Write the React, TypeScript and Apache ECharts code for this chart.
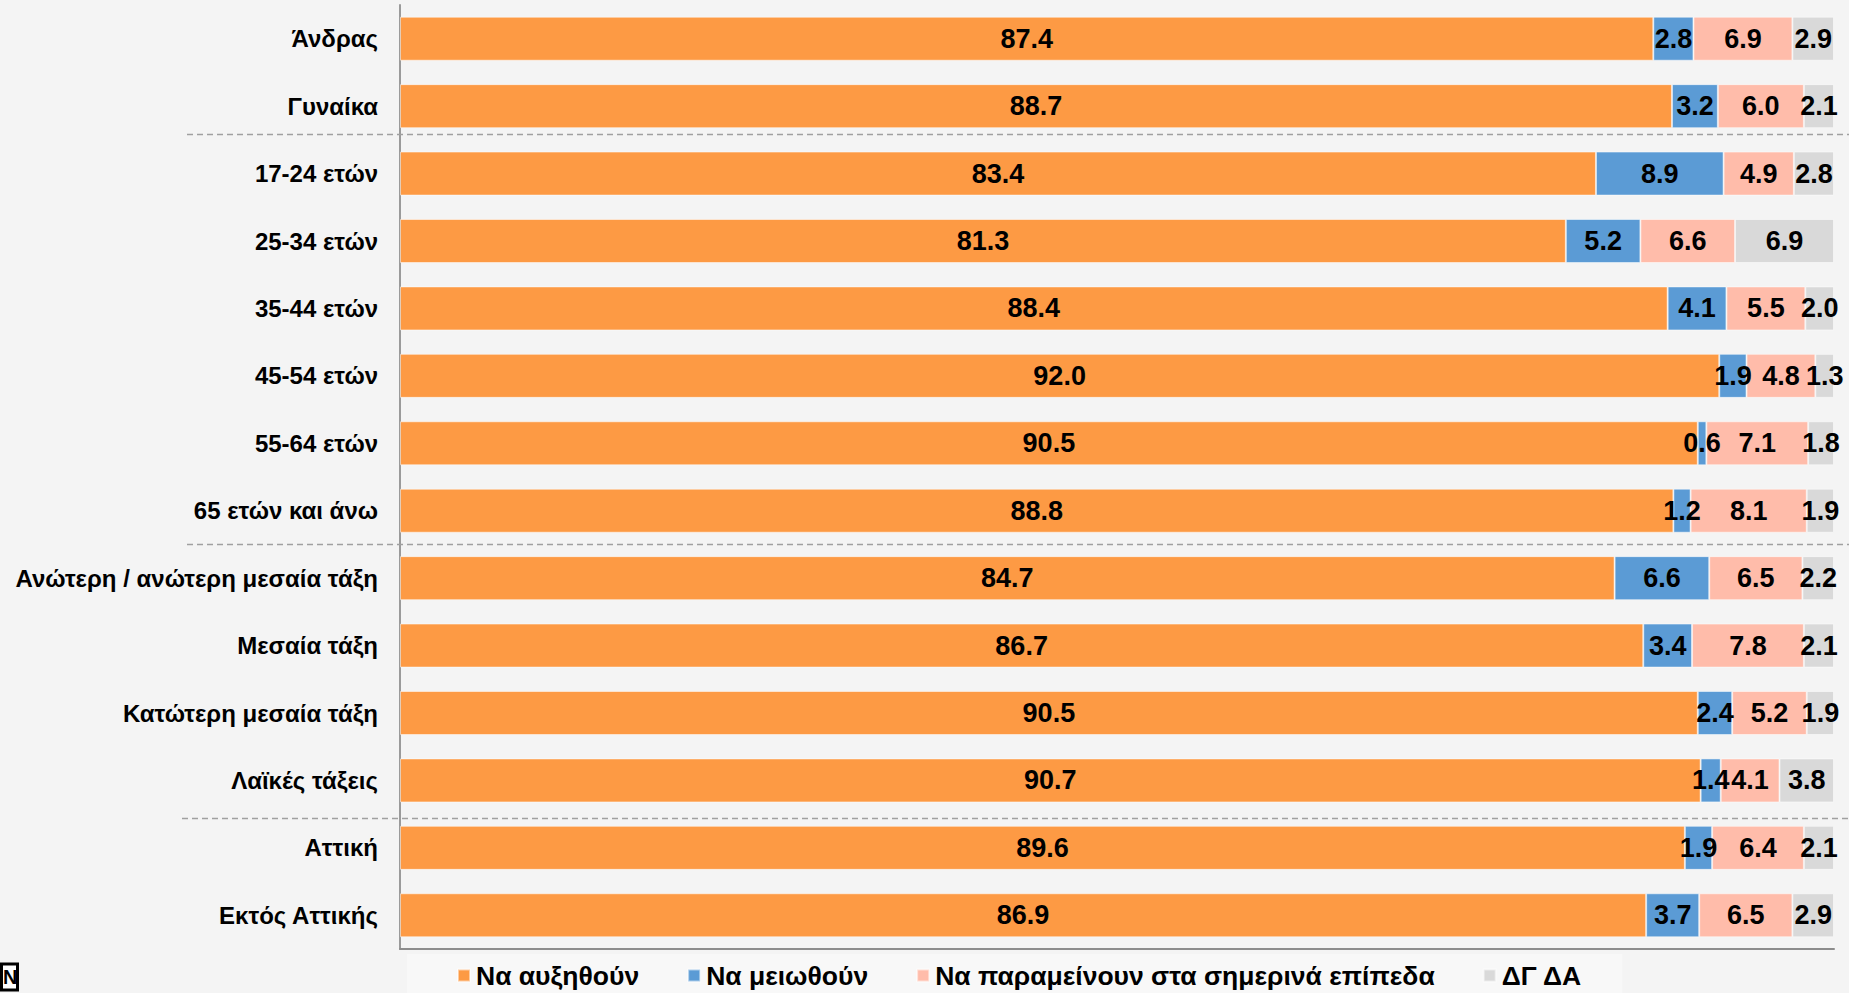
import React, { useEffect, useRef } from "react";
import * as echarts from "echarts";

const categories = [
  "Άνδρας",
  "Γυναίκα",
  "17-24 ετών",
  "25-34 ετών",
  "35-44 ετών",
  "45-54 ετών",
  "55-64 ετών",
  "65 ετών και άνω",
  "Ανώτερη / ανώτερη μεσαία τάξη",
  "Μεσαία τάξη",
  "Κατώτερη μεσαία τάξη",
  "Λαϊκές τάξεις",
  "Αττική",
  "Εκτός Αττικής",
];

const seriesNames = [
  "Να αυξηθούν",
  "Να μειωθούν",
  "Να παραμείνουν στα σημερινά επίπεδα",
  "ΔΓ ΔΑ",
];

const increase = [87.4, 88.7, 83.4, 81.3, 88.4, 92.0, 90.5, 88.8, 84.7, 86.7, 90.5, 90.7, 89.6, 86.9];
const decrease = [2.8, 3.2, 8.9, 5.2, 4.1, 1.9, 0.6, 1.2, 6.6, 3.4, 2.4, 1.4, 1.9, 3.7];
const remain = [6.9, 6.0, 4.9, 6.6, 5.5, 4.8, 7.1, 8.1, 6.5, 7.8, 5.2, 4.1, 6.4, 6.5];
const dontKnow = [2.9, 2.1, 2.8, 6.9, 2.0, 1.3, 1.8, 1.9, 2.2, 2.1, 1.9, 3.8, 2.1, 2.9];

// separators drawn after these category indices
const separatorsAfter = [1, 7, 11];

const colors = ["#FD9A44", "#5B9BD5", "#FFBCAA", "#D9D9D9"];

export default function App() {
  const ref = useRef<HTMLDivElement>(null);

  useEffect(() => {
    if (!ref.current) return;
    const chart = echarts.init(ref.current, null, { renderer: "svg" });
    const font = "'Liberation Sans', Arial, sans-serif";
    const values = [increase, decrease, remain, dontKnow];

    chart.setOption({
      animation: false,
      backgroundColor: "#F4F4F4",
      grid: { left: 400, right: 15, top: 5, bottom: 44 },
      xAxis: {
        type: "value",
        min: 0,
        max: 100,
        show: true,
        axisLine: { show: true, lineStyle: { color: "#8c8c8c", width: 2 } },
        axisTick: { show: false },
        axisLabel: { show: false },
        splitLine: { show: false },
      },
      yAxis: {
        type: "category",
        inverse: true,
        data: categories,
        axisLine: { show: true, lineStyle: { color: "#9a9a9a", width: 2 } },
        axisTick: { show: false },
        axisLabel: {
          color: "#000",
          fontWeight: "bold",
          fontSize: 24,
          fontFamily: font,
          margin: 22,
        },
      },
      legend: {
        left: 407,
        top: 954,
        padding: [8, 40, 10, 50],
        backgroundColor: "#F8F8F8",
        itemWidth: 12,
        itemHeight: 12,
        itemGap: 48,
        icon: "rect",
        data: seriesNames,
        textStyle: {
          color: "#000",
          fontWeight: "bold",
          fontSize: 26.5,
          fontFamily: font,
          padding: [0, 0, 0, 1],
        },
      },
      series: seriesNames.map((name, i) => ({
        name,
        type: "bar",
        stack: "total",
        barWidth: 44,
        data: values[i],
        itemStyle: {
          color: colors[i],
          borderColor: "rgba(255,255,255,0.5)",
          borderWidth: 1,
        },
        label: {
          show: true,
          position: "inside",
          color: "#000",
          fontWeight: "bold",
          fontSize: 27,
          fontFamily: font,
          formatter: (p: any) => Number(p.value).toFixed(1),
        },
      })),
    });

    const offsets = [-6, 0, 4];
    const starts = [187, 187, 182];
    const lines = separatorsAfter.map((idx, k) => {
      const y1 = chart.convertToPixel({ yAxisIndex: 0 }, idx) as number;
      const y2 = chart.convertToPixel({ yAxisIndex: 0 }, idx + 1) as number;
      const y = Math.round((y1 + y2) / 2 + offsets[k]) + 0.5;
      return {
        type: "line",
        shape: { x1: starts[k], y1: y, x2: 1849, y2: y },
        style: { stroke: "#a0a0a0", lineWidth: 1.5, lineDash: [6, 4] },
        z: 10,
      };
    });

    chart.setOption({
      graphic: [
        ...lines,
        {
          type: "rect",
          shape: { x: 1.5, y: 964, width: 16, height: 26 },
          style: { fill: "#ffffff", stroke: "#000", lineWidth: 3 },
          z: 20,
        },
        {
          type: "text",
          x: 3,
          y: 967,
          style: { text: "N", fill: "#000", font: "bold 20px 'Liberation Sans', Arial" },
          z: 21,
        },
      ],
    });

    return () => chart.dispose();
  }, []);

  return (
    <div
      ref={ref}
      style={{ position: "fixed", left: 0, top: 0, width: 1849, height: 993 }}
    />
  );
}
